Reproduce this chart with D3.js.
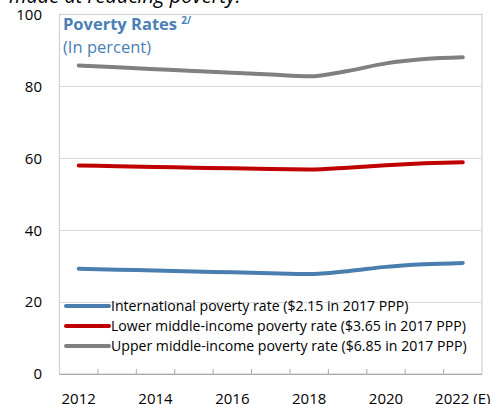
<!DOCTYPE html>
<html><head><meta charset="utf-8">
<script src="https://cdn.jsdelivr.net/npm/d3@7"></script>
<style>body{margin:0;background:#fff}svg{display:block}text{font-family:"Open Sans",sans-serif}</style>
</head><body>
<svg id="c" width="494" height="404"></svg>
<script>
const years = ["2012","2013","2014","2015","2016","2017","2018","2019","2020","2021","2022"];
const xLabels = {"2012":"2012","2014":"2014","2016":"2016","2018":"2018","2020":"2020","2022":"2022 (E)"};
const intl = [29.3, 29.0, 28.8, 28.5, 28.3, 28.0, 27.8, 28.6, 29.8, 30.5, 30.9];
const lower = [58.0, 57.8, 57.6, 57.4, 57.2, 57.0, 56.9, 57.4, 58.1, 58.6, 58.9];
const upper = [85.8, 85.3, 84.8, 84.3, 83.8, 83.3, 82.8, 84.3, 86.4, 87.6, 88.1];
const seriesNames = ["International poverty rate ($2.15 in 2017 PPP)","Lower middle-income poverty rate ($3.65 in 2017 PPP)","Upper middle-income poverty rate ($6.85 in 2017 PPP)"];
const yTicks = [0,20,40,60,80,100];

const svg = d3.select("#c");
const L=59.5, R=482, T=14.5, B=374;
const x = d3.scaleBand().domain(years).range([L,R]);
const y = d3.scaleLinear().domain([0,100]).range([B,T]);

// cut-off text at top
svg.append("text").attr("x",9).attr("y",3).attr("font-size",20).attr("font-style","italic").attr("fill","#000").text("made at reducing poverty.");

// gridlines
svg.append("g").selectAll("line").data(yTicks.filter(d=>d>0&&d<100)).join("line")
  .attr("x1",L).attr("x2",R).attr("y1",d=>Math.round(y(d))+0.5).attr("y2",d=>Math.round(y(d))+0.5)
  .attr("stroke","#d9d9d9").attr("stroke-width",1);
// border
svg.append("rect").attr("x",L).attr("y",T).attr("width",R-L).attr("height",B-T).attr("fill","none").attr("stroke","#d0d0d0").attr("stroke-width",1.2);

// y axis labels
const ya = svg.append("g").attr("transform",`translate(42,0)`).call(d3.axisLeft(y).tickValues(yTicks).tickSize(0).tickPadding(0));
ya.select(".domain").remove();
ya.selectAll("text").attr("font-size",15).attr("fill","#000").attr("font-family","'Open Sans',sans-serif");

// x axis: ticks between bands (inside)
const xa = svg.append("g").attr("transform",`translate(0,${B})`);
xa.append("path").attr("d",`M${L},0.5H${R}`).attr("stroke","#aaa").attr("stroke-width",1.2);
xa.selectAll("line.t").data(years.slice(1)).join("line").attr("class","t")
  .attr("x1",d=>x(d)).attr("x2",d=>x(d)).attr("y1",0).attr("y2",-5).attr("stroke","#aaa");
xa.selectAll("text").data(years.filter(d=>xLabels[d])).join("text")
  .attr("x",d=>x(d)+x.bandwidth()/2).attr("y",30).attr("text-anchor","middle")
  .attr("font-size",15).attr("fill","#000").text(d=>xLabels[d]);

// lines
const colors = ["#4a7eae","#c00000","#808080"];
const data = [intl, lower, upper];
const line = d3.line().x((d,i)=>x(years[i])+x.bandwidth()/2).y(d=>y(d)).curve(d3.curveMonotoneX);
[2,1,0].forEach(k=>{
  svg.append("path").datum(data[k]).attr("d",line).attr("fill","none").attr("stroke",colors[k]).attr("stroke-width",4).attr("stroke-linecap","round");
});

// title
const t = svg.append("text").attr("x",63).attr("y",30).attr("fill","#4a80b6").attr("font-size",16.5).attr("font-weight","bold");
t.append("tspan").text("Poverty Rates ");
t.append("tspan").attr("font-size",10).attr("dy",-6).text("2/");
svg.append("text").attr("x",63).attr("y",53).attr("fill","#4a80b6").attr("font-size",16.5).text("(In percent)");

// legend
const lg = svg.append("g");
seriesNames.forEach((n,i)=>{
  const yy = 306 + i*20;
  lg.append("line").attr("x1",66).attr("x2",109).attr("y1",yy).attr("y2",yy).attr("stroke",colors[i]).attr("stroke-width",4).attr("stroke-linecap","round");
  lg.append("text").attr("x",111).attr("y",yy+5).attr("font-size",14.1).attr("fill","#000").text(n);
});
</script>
</body></html>
